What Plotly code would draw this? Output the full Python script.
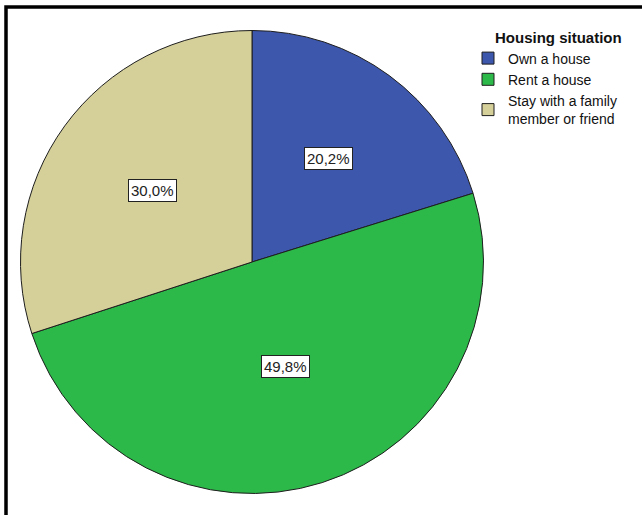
import math
import plotly.graph_objects as go

# Survey results: housing situation of respondents (percent)
categories = ["Own a house", "Rent a house", "Stay with a family<br>member or friend"]
shares = [20.2, 49.8, 30.0]
share_labels = ["20,2%", "49,8%", "30,0%"]
colors = ["#3d57ad", "#2db94a", "#d5cf9a"]

W, H = 642, 515
dom_x = [20.5 / W, 483.5 / W]
dom_y = [1 - 493.5 / H, 1 - 30.5 / H]
FONT = "Arial, Liberation Sans, sans-serif"

fig = go.Figure(
    go.Pie(
        labels=categories,
        values=shares,
        sort=False,
        direction="clockwise",
        rotation=0,
        textinfo="none",
        hoverinfo="label+percent",
        marker=dict(colors=colors, line=dict(color="#1e1e1e", width=1)),
        domain=dict(x=dom_x, y=dom_y),
    )
)

# Boxed percentage labels inside each slice; narrower slices push the label outward
cx = (dom_x[0] + dom_x[1]) / 2 * W
cy = (1 - (dom_y[0] + dom_y[1]) / 2) * H
radius = (dom_x[1] - dom_x[0]) * W / 2
total = sum(shares)
cum = 0.0
annotations = []
for val, txt in zip(shares, share_labels):
    mid = (cum + val / 2) / total * 2 * math.pi
    cum += val
    frac = 0.61 - 0.0027 * (val / total * 100)
    px = cx + frac * radius * math.sin(mid)
    py = cy - frac * radius * math.cos(mid)
    annotations.append(
        dict(
            x=px / W, y=1 - py / H, xref="paper", yref="paper",
            xanchor="center", yanchor="middle",
            text=txt, showarrow=False,
            font=dict(family=FONT, size=15, color="#222222"),
            bgcolor="white", bordercolor="#222222", borderwidth=1, borderpad=2,
        )
    )

fig.update_layout(
    width=W,
    height=H,
    margin=dict(l=0, r=0, t=0, b=0),
    paper_bgcolor="white",
    plot_bgcolor="white",
    showlegend=True,
    legend=dict(
        title=dict(text="&nbsp;&nbsp;&nbsp;&nbsp;&nbsp;&nbsp;<b>Housing situation</b>",
                   font=dict(family=FONT, size=15, color="#111111")),
        font=dict(family=FONT, size=14, color="#111111"),
        x=468 / W, xanchor="left",
        y=1 - 23 / H, yanchor="top",
        itemwidth=30,
        bgcolor="rgba(0,0,0,0)",
    ),
    annotations=annotations,
    shapes=[
        dict(type="rect", xref="paper", yref="paper",
             x0=6 / W, x1=1.05, y0=-0.05, y1=1 - 7 / H,
             line=dict(color="black", width=3.5), layer="above")
    ],
)

fig.write_html("out.html")
